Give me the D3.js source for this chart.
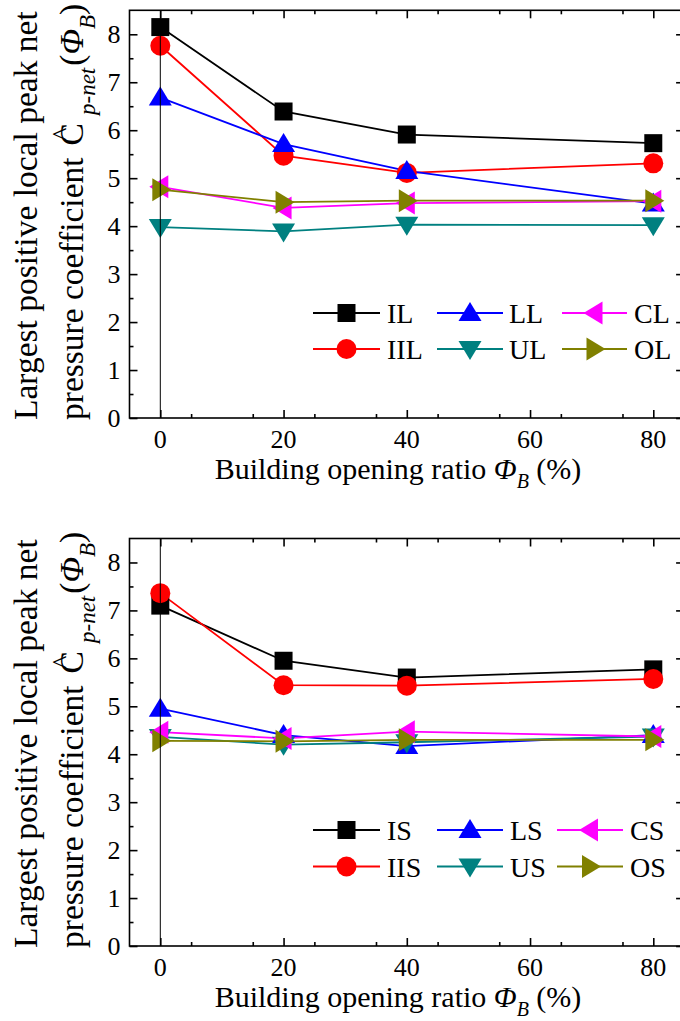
<!DOCTYPE html>
<html><head><meta charset="utf-8">
<script src="https://cdn.jsdelivr.net/npm/d3@7"></script>
<style>body{margin:0;background:#fff}svg{display:block}</style>
</head><body>
<svg id="c" width="680" height="1021"></svg>
<script>
// ---------- data ----------
const xValues = [0, 20, 40, 80];
const xTickValues = [0, 20, 40, 60, 80];
const yTickValues = [0, 1, 2, 3, 4, 5, 6, 7, 8];

const seriesNamesTop = ["IL", "IIL", "LL", "UL", "CL", "OL"];
const IL  = [8.15, 6.39, 5.91, 5.73];
const IIL = [7.76, 5.47, 5.11, 5.31];
const LL  = [6.68, 5.71, 5.15, 4.47];
const UL  = [3.98, 3.89, 4.03, 4.02];
const CL  = [4.82, 4.38, 4.48, 4.52];
const OL  = [4.76, 4.50, 4.53, 4.53];

const seriesNamesBottom = ["IS", "IIS", "LS", "US", "CS", "OS"];
const IS  = [7.10, 5.95, 5.60, 5.77];
const IIS = [7.36, 5.44, 5.43, 5.57];
const LS  = [4.95, 4.40, 4.17, 4.40];
const US  = [4.36, 4.20, 4.25, 4.37];
const CS  = [4.46, 4.33, 4.47, 4.37];
const OS  = [4.28, 4.27, 4.30, 4.30];

// ---------- styling ----------
const colors  = ["#000000", "#ff0000", "#0000ff", "#008080", "#ff00ff", "#808000"];
const symbols = ["square", "circle", "triUp", "triDown", "triLeft", "triRight"];
const FONT = '"Liberation Serif"';

const svg = d3.select("#c");

function markerPath(type, s) {
  switch (type) {
    case "square": return `M${-s},${-s}H${s}V${s}H${-s}Z`;
    case "circle": return d3.symbol(d3.symbolCircle, Math.PI * s * s)();
    case "triUp":   return `M0,${-s*1.1}L${s*1.15},${s*0.8}L${-s*1.15},${s*0.8}Z`;
    case "triDown": return `M0,${s*1.1}L${s*1.15},${-s*0.8}L${-s*1.15},${-s*0.8}Z`;
    case "triLeft": return `M${-s*1.1},0L${s*0.8},${-s*1.15}L${s*0.8},${s*1.15}Z`;
    case "triRight":return `M${s*1.1},0L${-s*0.8},${-s*1.15}L${-s*0.8},${s*1.15}Z`;
  }
}
const markerHalf = {square: 9, circle: 10, triUp: 10, triDown: 10, triLeft: 10, triRight: 10};

function txt(sel) { return sel.append("text").style("font-family", FONT).attr("fill", "#000"); }

function drawPanel(cfg) {
  const x = d3.scaleLinear().domain([-5, 85]).range([129.5, 684.1]);
  const y = d3.scaleLinear().domain([0, 8.5]).range([cfg.bottom, cfg.top]);
  const g = svg.append("g");

  g.append("rect").attr("x", x(-5)).attr("y", y(8.5))
    .attr("width", x(85) - x(-5)).attr("height", y(0) - y(8.5))
    .attr("fill", "none").attr("stroke", "#000").attr("stroke-width", 1.6);

  const xMinor = d3.range(-5, 86, 10).filter(v => v > -5 && v < 85 && !xTickValues.includes(v));
  const yMinor = d3.range(0.5, 8.5, 1);
  const axB = d3.axisBottom(x).tickValues(xTickValues).tickSize(-8).tickFormat("");
  const axT = d3.axisTop(x).tickValues(xTickValues).tickSize(-8).tickFormat("");
  const axL = d3.axisLeft(y).tickValues(yTickValues).tickSize(-8).tickFormat("");
  const axR = d3.axisRight(y).tickValues(yTickValues).tickSize(-8).tickFormat("");
  const mB = d3.axisBottom(x).tickValues(xMinor).tickSize(-4).tickFormat("");
  const mT = d3.axisTop(x).tickValues(xMinor).tickSize(-4).tickFormat("");
  const mL = d3.axisLeft(y).tickValues(yMinor).tickSize(-4).tickFormat("");
  const mR = d3.axisRight(y).tickValues(yMinor).tickSize(-4).tickFormat("");
  [[axB, `translate(0,${y(0)})`], [mB, `translate(0,${y(0)})`],
   [axT, `translate(0,${y(8.5)})`], [mT, `translate(0,${y(8.5)})`],
   [axL, `translate(${x(-5)},0)`], [mL, `translate(${x(-5)},0)`],
   [axR, `translate(${x(85)},0)`], [mR, `translate(${x(85)},0)`]].forEach(([ax, tr]) => {
    const a = g.append("g").attr("transform", tr).call(ax);
    a.select(".domain").remove();
    a.selectAll("line").attr("stroke", "#000").attr("stroke-width", 1.6);
  });

  xTickValues.forEach(d => {
    txt(g).attr("x", x(d)).attr("y", y(0) + 30).attr("text-anchor", "middle")
      .attr("font-size", 26).text(d);
  });
  yTickValues.forEach(d => {
    txt(g).attr("x", x(-5) - 9).attr("y", y(d)).attr("dy", "0.34em").attr("text-anchor", "end")
      .attr("font-size", 26).text(d);
  });

  const xt = txt(g).attr("x", 398).attr("y", y(0) + 61)
    .attr("text-anchor", "middle").attr("font-size", 30);
  xt.append("tspan").text("Building opening ratio ");
  xt.append("tspan").attr("font-style", "italic").text("Φ");
  xt.append("tspan").attr("font-style", "italic").attr("font-size", 20).attr("dy", 9).text("B");
  xt.append("tspan").attr("dy", -9).text(" (%)");

  const yg = g.append("g").attr("transform", `translate(0,${y(0) + 2}) rotate(-90)`);
  txt(yg).attr("x", 0).attr("y", 37).attr("font-size", 33.5)
    .text("Largest positive local peak net");
  const t2 = txt(yg).attr("x", 0).attr("y", 83).attr("font-size", 33.5);
  t2.append("tspan").text("pressure coefficient");
  t2.append("tspan").attr("dx", 12).text("C");
  t2.append("tspan").attr("font-style", "italic").attr("font-size", 23).attr("dx", 8).attr("dy", 12).text("p-net");
  t2.append("tspan").attr("dx", 2).attr("dy", -12).text("(");
  t2.append("tspan").attr("font-style", "italic").text("Φ");
  t2.append("tspan").attr("font-style", "italic").attr("font-size", 23).attr("dy", 12).text("B");
  t2.append("tspan").attr("dy", -12).text(")");
  const node = t2.node();
  const cIdx = "pressure coefficient".length;
  const p0 = node.getStartPositionOfChar(cIdx), p1 = node.getEndPositionOfChar(cIdx);
  txt(yg).attr("x", (p0.x + p1.x) / 2).attr("y", 71)
    .attr("text-anchor", "middle").attr("font-size", 28).text("^");

  const line = d3.line().x((d, i) => x(xValues[i])).y(d => y(d));
  cfg.series.forEach((vals, k) => {
    g.append("path").attr("d", line(vals)).attr("fill", "none")
      .attr("stroke", colors[k]).attr("stroke-width", 1.8);
  });
  cfg.series.forEach((vals, k) => {
    g.selectAll(null).data(vals).join("path")
      .attr("transform", (d, i) => `translate(${x(xValues[i])},${y(d)})`)
      .attr("d", markerPath(symbols[k], markerHalf[symbols[k]]))
      .attr("fill", colors[k]);
  });

  g.append("line").attr("x1", x(0)).attr("x2", x(0)).attr("y1", y(8.5)).attr("y2", y(0))
    .attr("stroke", "#000").attr("stroke-width", 1);

  cfg.names.forEach((name, k) => {
    const col = Math.floor(k / 2), row = k % 2;
    const L = cfg.legend[col];
    const ly = cfg.legendRows[row];
    g.append("line").attr("x1", L[0]).attr("x2", L[1]).attr("y1", ly).attr("y2", ly)
      .attr("stroke", colors[k]).attr("stroke-width", 1.8);
    g.append("path").attr("transform", `translate(${(L[0] + L[1]) / 2},${ly})`)
      .attr("d", markerPath(symbols[k], markerHalf[symbols[k]])).attr("fill", colors[k]);
    txt(g).attr("x", L[2]).attr("y", ly + 10).attr("font-size", 28).text(name);
  });
}

drawPanel({
  top: 10.3, bottom: 418,
  series: [IL, IIL, LL, UL, CL, OL], names: seriesNamesTop,
  legendRows: [313, 349],
  legend: [[313, 380, 387], [437, 503, 509], [562, 627, 634]]
});
drawPanel({
  top: 538.5, bottom: 946,
  series: [IS, IIS, LS, US, CS, OS], names: seriesNamesBottom,
  legendRows: [830, 866.5],
  legend: [[313, 380, 387], [437, 503, 510], [557, 623, 630]]
});
</script>
</body></html>
